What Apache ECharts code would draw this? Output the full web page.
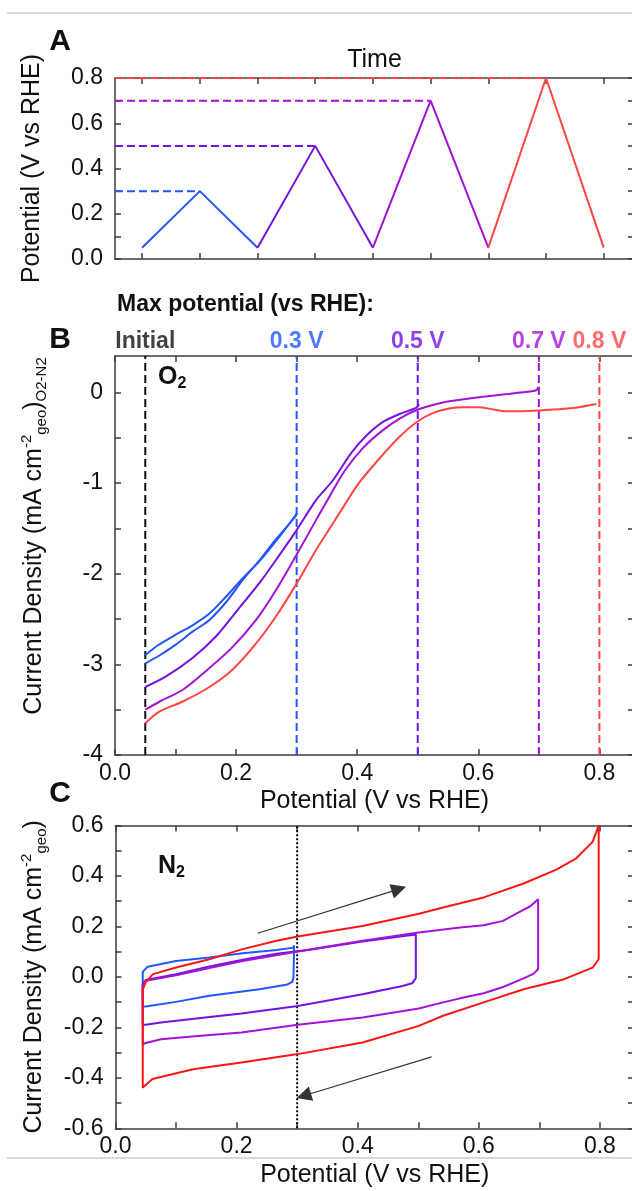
<!DOCTYPE html>
<html><head><meta charset="utf-8">
<script src="https://cdn.jsdelivr.net/npm/echarts@6/dist/echarts.min.js"></script>
<style>html,body{margin:0;padding:0;background:#fff}#c{width:632px;height:1191px}</style>
</head><body><div id="c"></div>
<script>
// ---------------- Panel A : potential program vs time ----------------
const aTicksX = [0, 1, 2, 3, 4, 5, 6, 7, 8];
const aTicksY = [0, 0.1, 0.2, 0.3, 0.4, 0.5, 0.6, 0.7, 0.8];
const aLabelsY = [0, 0.2, 0.4, 0.6, 0.8];
const aBlue   = [[0, 0.05], [1, 0.30], [2, 0.05]];
const aViolet = [[2, 0.05], [3, 0.50], [4, 0.05]];
const aPurple = [[4, 0.05], [5, 0.70], [6, 0.05]];
const aRed    = [[6, 0.05], [7, 0.80], [8, 0.05]];
const aPeakTime = [1, 3, 5, 7];
const aPeakPot  = [0.30, 0.50, 0.70, 0.80];

// ---------------- Panel B : O2 ORR current (O2 - N2) ----------------
const bTicksX  = [0, 0.1, 0.2, 0.3, 0.4, 0.5, 0.6, 0.7, 0.8];
const bLabelsX = [0, 0.2, 0.4, 0.6, 0.8];
const bTicksY  = [-4, -3.5, -3, -2.5, -2, -1.5, -1, -0.5, 0];
const bLabelsY = [-4, -3, -2, -1, 0];
const bMaxPot   = [0.05, 0.3, 0.5, 0.7, 0.8];
const bMaxNames = ['Initial', '0.3 V', '0.5 V', '0.7 V', '0.8 V'];
const bBlueFwd = [[0.05,-2.99],[0.074,-2.90],[0.101,-2.78],[0.128,-2.64],[0.156,-2.51],[0.184,-2.31],[0.211,-2.07],[0.239,-1.85],[0.266,-1.62],[0.298,-1.37],[0.300,-1.33]];
const bBlueRev = [[0.300,-1.34],[0.266,-1.64],[0.239,-1.86],[0.211,-2.05],[0.184,-2.25],[0.156,-2.44],[0.128,-2.57],[0.101,-2.67],[0.071,-2.79],[0.05,-2.90]];
const bViolet = [[0.05,-3.25],[0.085,-3.13],[0.128,-2.93],[0.167,-2.69],[0.205,-2.38],[0.239,-2.10],[0.272,-1.79],[0.300,-1.52],[0.332,-1.19],[0.360,-0.97],[0.390,-0.67],[0.415,-0.48],[0.442,-0.33],[0.470,-0.24],[0.498,-0.17],[0.502,-0.13]];
const bPurple = [[0.05,-3.50],[0.074,-3.41],[0.112,-3.28],[0.156,-3.04],[0.194,-2.81],[0.233,-2.51],[0.266,-2.18],[0.300,-1.79],[0.332,-1.41],[0.355,-1.14],[0.380,-0.86],[0.410,-0.61],[0.442,-0.42],[0.470,-0.29],[0.500,-0.19],[0.525,-0.14],[0.552,-0.10],[0.607,-0.05],[0.660,-0.01],[0.695,0.02],[0.700,0.06]];
const bRed = [[0.05,-3.65],[0.074,-3.52],[0.112,-3.41],[0.156,-3.25],[0.194,-3.06],[0.233,-2.77],[0.266,-2.47],[0.300,-2.11],[0.332,-1.74],[0.371,-1.33],[0.403,-1.00],[0.442,-0.69],[0.470,-0.49],[0.500,-0.32],[0.525,-0.23],[0.552,-0.18],[0.575,-0.165],[0.600,-0.165],[0.625,-0.19],[0.646,-0.21],[0.700,-0.20],[0.760,-0.17],[0.795,-0.13]];

// ---------------- Panel C : N2 CVs ----------------
const cTicksX  = [0, 0.1, 0.2, 0.3, 0.4, 0.5, 0.6, 0.7, 0.8];
const cLabelsX = [0, 0.2, 0.4, 0.6, 0.8];
const cTicksY  = [-0.6, -0.5, -0.4, -0.3, -0.2, -0.1, 0, 0.1, 0.2, 0.3, 0.4, 0.5, 0.6];
const cLabelsY = [-0.6, -0.4, -0.2, 0, 0.2, 0.4, 0.6];
const cBlue = [[0.045,-0.117],[0.045,0.02],[0.053,0.04],[0.100,0.063],[0.155,0.077],[0.210,0.094],[0.266,0.107],[0.294,0.116],[0.295,0.125],[0.294,0.0],[0.292,-0.02],[0.284,-0.03],[0.238,-0.049],[0.155,-0.075],[0.100,-0.099],[0.050,-0.117],[0.045,-0.117]];
const cViolet = [[0.045,-0.19],[0.045,-0.03],[0.05,-0.012],[0.100,0.011],[0.155,0.041],[0.210,0.068],[0.266,0.092],[0.321,0.108],[0.408,0.14],[0.470,0.16],[0.496,0.168],[0.496,-0.005],[0.490,-0.025],[0.474,-0.036],[0.408,-0.069],[0.301,-0.115],[0.208,-0.145],[0.141,-0.163],[0.075,-0.181],[0.050,-0.19],[0.045,-0.19]];
const cPurple = [[0.045,-0.267],[0.045,-0.035],[0.05,-0.015],[0.100,0.006],[0.155,0.035],[0.210,0.063],[0.301,0.101],[0.408,0.143],[0.501,0.176],[0.569,0.196],[0.608,0.205],[0.640,0.222],[0.665,0.255],[0.685,0.28],[0.698,0.308],[0.698,0.03],[0.690,0.012],[0.674,-0.006],[0.640,-0.04],[0.608,-0.065],[0.569,-0.085],[0.541,-0.101],[0.501,-0.125],[0.408,-0.161],[0.301,-0.19],[0.208,-0.22],[0.141,-0.233],[0.075,-0.247],[0.050,-0.262],[0.045,-0.267]];
const cRed = [[0.045,-0.44],[0.045,-0.05],[0.050,-0.021],[0.062,0.011],[0.100,0.037],[0.155,0.07],[0.210,0.11],[0.266,0.143],[0.301,0.16],[0.408,0.202],[0.501,0.25],[0.541,0.275],[0.608,0.315],[0.674,0.37],[0.728,0.425],[0.761,0.47],[0.788,0.535],[0.798,0.60],[0.798,0.07],[0.788,0.037],[0.741,-0.009],[0.674,-0.049],[0.608,-0.101],[0.541,-0.154],[0.501,-0.194],[0.408,-0.26],[0.301,-0.306],[0.208,-0.339],[0.128,-0.366],[0.061,-0.405],[0.048,-0.432],[0.045,-0.44]];
const cMarkerPot = 0.3;
const cArrows = [[[0.235, 0.173], [0.468, 0.348]], [[0.522, -0.317], [0.311, -0.471]]];

// ---------------- styling / layout ----------------
const FONT = '"Liberation Sans", Arial, Helvetica, sans-serif';
const TXT = '#111111';
const AX = '#3c3c3c';
const C_BLUE = '#2356ff', C_VIOLET = '#7412e2', C_PURPLE = '#a312d6', C_RED = '#ff4545', C_RED_N2 = '#ff1414';
const PXV = 605.5;
const gA = {left: 115, top: 78, width: 519, height: 181};
const gB = {left: 115, top: 356, width: 519, height: 399};
const gC = {left: 115.5, top: 825.5, width: 518.5, height: 302.8};
const aXMin = -0.47, aXMax = aXMin + gA.width / 57.7;
const bXMax = gB.width / PXV, cXMax = gC.width / PXV;
const bYMin = -4, bYMax = 0.4, cYMin = -0.6, cYMax = 0.6;

const f1 = v => v.toFixed(1);
const f0 = v => String(Math.round(v));

function ax(gridIndex, min, max, pos, ticks, labels, fmt, extra) {
  const horiz = pos === 'bottom' || pos === 'top';
  return Object.assign({
    type: 'value', gridIndex, min, max, position: pos,
    axisLine: {show: true, onZero: false, lineStyle: {color: AX, width: 1.5}},
    axisTick: {show: true, inside: true, length: 6, customValues: ticks, lineStyle: {color: AX, width: 1.5}},
    axisLabel: labels ? {show: true, customValues: labels, formatter: fmt, color: TXT, fontSize: 23,
      fontFamily: FONT, margin: horiz ? 7 : 12} : {show: false},
    splitLine: {show: false}, minorTick: {show: false}, nameMoveOverlap: false
  }, extra || {});
}
const xName = {name: 'Potential (V vs RHE)', nameLocation: 'middle', nameGap: 34,
  nameTextStyle: {fontSize: 25, color: TXT, fontFamily: FONT}};
const richBase = {
  m: {fontSize: 25, fontFamily: FONT, color: TXT, lineHeight: 30},
  sup: {fontSize: 15, fontFamily: FONT, color: TXT, lineHeight: 15, verticalAlign: 'top'},
  sub: {fontSize: 15, fontFamily: FONT, color: TXT, lineHeight: 15, verticalAlign: 'bottom'}
};

const xAxis = [
  ax(0, aXMin, aXMax, 'bottom', aTicksX, null),
  ax(0, aXMin, aXMax, 'top', aTicksX, null, null, {name: 'Time', nameLocation: 'middle', nameGap: 5,
    nameTextStyle: {fontSize: 25, color: TXT, fontFamily: FONT}}),
  ax(1, 0, bXMax, 'bottom', bTicksX, bLabelsX, f1, xName),
  ax(1, 0, bXMax, 'top', bTicksX, null),
  ax(2, 0, cXMax, 'bottom', cTicksX, cLabelsX, f1, xName),
  ax(2, 0, cXMax, 'top', cTicksX, null)
];
const yAxis = [
  ax(0, 0, 0.8, 'left', aTicksY, aLabelsY, f1, {name: 'Potential (V vs RHE)', nameLocation: 'middle', nameGap: 70,
    nameTextStyle: {fontSize: 25, color: TXT, fontFamily: FONT}}),
  ax(0, 0, 0.8, 'right', aTicksY, null),
  ax(1, bYMin, bYMax, 'left', bTicksY, bLabelsY, f0, {
    name: '{m|Current Density (mA cm}{sup|-2}{sub|geo}{m|)}{sub|O2-N2}', nameLocation: 'middle', nameGap: 66,
    nameTextStyle: {rich: richBase, padding: [0, 0, 0, 39]}}),
  ax(1, bYMin, bYMax, 'right', bTicksY, null),
  ax(2, cYMin, cYMax, 'left', cTicksY, cLabelsY, f1, {
    name: '{m|Current Density (mA cm}{sup|-2}{sub|geo}{m|)}', nameLocation: 'middle', nameGap: 66,
    nameTextStyle: {rich: richBase}}),
  ax(2, cYMin, cYMax, 'right', cTicksY, null)
];

const series = [];
function line(xi, yi, data, color, lineType, smooth) {
  series.push({type: 'line', xAxisIndex: xi, yAxisIndex: yi, data, showSymbol: false, symbol: 'none',
    silent: true, animation: false, clip: false, smooth: smooth || false,
    lineStyle: {color, width: 2, type: lineType || 'solid'}});
}
// Panel A
const aColors = [C_BLUE, C_VIOLET, C_PURPLE, C_RED];
aPeakTime.forEach((t, i) => line(0, 0, [[aXMin, aPeakPot[i]], [t, aPeakPot[i]]], aColors[i], 'dashed'));
[aBlue, aViolet, aPurple, aRed].forEach((d, i) => line(0, 0, d, aColors[i]));
// Panel B
const bColors = ['#111111', C_BLUE, C_VIOLET, C_PURPLE, C_RED];
bMaxPot.forEach((x, i) => line(2, 2, [[x, bYMin], [x, bYMax]], bColors[i], 'dashed'));
line(2, 2, bBlueFwd, C_BLUE, 'solid', 0.3);
line(2, 2, bBlueRev, C_BLUE, 'solid', 0.3);
[bViolet, bPurple, bRed].forEach((d, i) => line(2, 2, d, aColors[i + 1], 'solid', 0.3));
series.push({type: 'scatter', xAxisIndex: 2, yAxisIndex: 2, symbolSize: 0, silent: true, clip: false, animation: false,
  data: bMaxPot.map((x, i) => ({value: [x, bYMax], label: {color: bColors[i], formatter: bMaxNames[i]}})),
  label: {show: true, position: 'top', distance: 3, fontSize: 23, fontWeight: 'bold', fontFamily: FONT}});
// Panel C
line(4, 4, [[cMarkerPot, cYMin], [cMarkerPot, cYMax]], '#000000', 'dotted');
const cColors = [C_BLUE, C_VIOLET, C_PURPLE, C_RED_N2];
[cBlue, cViolet, cPurple, cRed].forEach((d, i) => line(4, 4, d, cColors[i]));
series.push({type: 'line', xAxisIndex: 4, yAxisIndex: 4, data: [], silent: true, animation: false,
  markLine: {silent: true, animation: false, symbol: ['none', 'triangle'], symbolSize: 15,
    label: {show: false}, lineStyle: {color: '#333333', width: 1.2, type: 'solid'},
    data: cArrows.map(a => [{coord: a[0]}, {coord: a[1]}])}});

const txt = (text, x, y, size, extra) => Object.assign({type: 'text', x, y, silent: true,
  style: Object.assign({text, fontSize: size, fontWeight: 'bold', fontFamily: FONT, fill: TXT,
    align: 'center', verticalAlign: 'middle'}, extra || {})});
const subRich = {
  o: {fontSize: 25, fontWeight: 'bold', fontFamily: FONT, fill: TXT, lineHeight: 30},
  s: {fontSize: 16, fontWeight: 'bold', fontFamily: FONT, fill: TXT, lineHeight: 16, verticalAlign: 'bottom'}
};

const chart = echarts.init(document.getElementById('c'), null, {renderer: 'canvas'});
chart.setOption({
  animation: false,
  backgroundColor: '#ffffff',
  textStyle: {fontFamily: FONT},
  grid: [gA, gB, gC].map(g => Object.assign({outerBoundsMode: 'none', containLabel: false}, g)),
  xAxis, yAxis, series,
  graphic: [
    {type: 'line', silent: true, shape: {x1: 7, y1: 13, x2: 632, y2: 13}, style: {stroke: '#cccccc', lineWidth: 1.5}},
    {type: 'line', silent: true, shape: {x1: 7, y1: 1158, x2: 632, y2: 1158}, style: {stroke: '#cccccc', lineWidth: 1.5}},
    txt('A', 60, 42, 30),
    txt('B', 60, 340, 30),
    txt('C', 60, 794, 30),
    txt('Max potential (vs RHE):', 117, 305, 23, {align: 'left'}),
    txt('{o|O}{s|2}', 158, 377, 25, {align: 'left', rich: subRich}),
    txt('{o|N}{s|2}', 158, 866, 25, {align: 'left', rich: subRich})
  ]
});
</script></body></html>
